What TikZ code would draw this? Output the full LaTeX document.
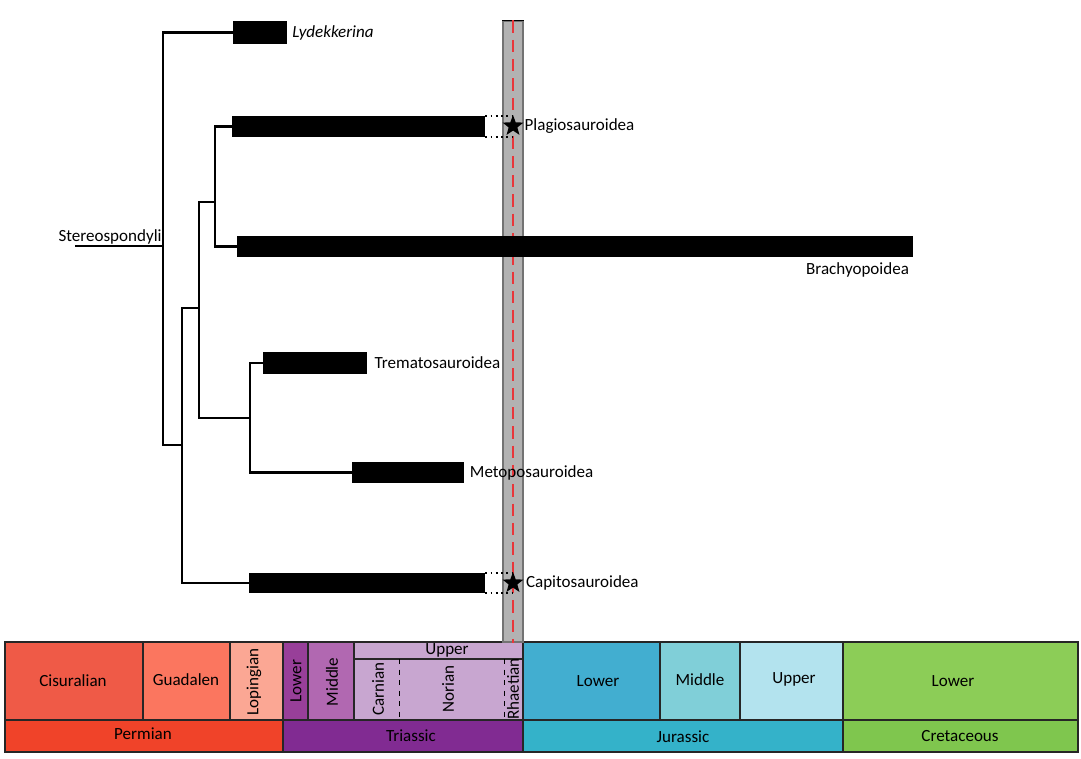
\documentclass[tikz,border=0pt]{standalone}
\usepackage{fontspec}
\setmainfont{Carlito}
\usepackage{xcolor}
\usepackage{tikz}
\usetikzlibrary{positioning}
\usetikzlibrary{fit}
\usetikzlibrary{shapes.geometric}
\definecolor{cisural}{HTML}{EF5A47}
\definecolor{guadal}{HTML}{FB765F}
\definecolor{loping}{HTML}{FBA794}
\definecolor{permian}{HTML}{F04329}
\definecolor{lowtri}{HTML}{983F99}
\definecolor{midtri}{HTML}{B168B1}
\definecolor{upptri}{HTML}{C8A6D0}
\definecolor{triassic}{HTML}{812B92}
\definecolor{lowjur}{HTML}{42AED0}
\definecolor{midjur}{HTML}{80CFD8}
\definecolor{uppjur}{HTML}{B3E3EE}
\definecolor{jurassic}{HTML}{34B2C9}
\definecolor{lowcret}{HTML}{8CCD57}
\definecolor{cretac}{HTML}{7FC64E}
\definecolor{tjred}{HTML}{E8363A}
\newcommand{\taxfont}{\fontsize{9.7}{11}\selectfont}
\tikzset{>=latex}
\tikzstyle{bar} = [draw=none, fill=black, inner sep=0]
\tikzstyle{taxon} = [draw=none, inner sep=0, font=\taxfont]
\tikzstyle{branch} = [-, line width=1.5pt]
\tikzstyle{ghost} = [-, dotted, line width=1pt]
\tikzstyle{age} = [draw=black!85, line width=0.6pt]
\tikzstyle{extinct} = [star, star points=5, star point ratio=2.4, fill=black, inner sep=0, minimum size=12.5pt]

\begin{document}
\begin{tikzpicture}[x=0.02cm, y=-0.02cm]
\useasboundingbox (0,0) rectangle (1081,758);
% time scale
\draw [age, fill=cisural] (5,642) rectangle (143,720);
\draw [age, fill=guadal] (143,642) rectangle (230,720);
\draw [age, fill=loping] (230,642) rectangle (283,720);
\draw [age, fill=permian] (5,720) rectangle (283,752);
\draw [age, fill=lowtri] (283,642) rectangle (308,720);
\draw [age, fill=midtri] (308,642) rectangle (354,720);
\draw [age, fill=upptri] (354,642) rectangle (523,659);
\draw [age, fill=upptri] (354,659) rectangle (523,720);
\draw [dashed, line width=0.5pt] (399,659) -- (399,720);
\draw [dashed, line width=0.5pt] (504,659) -- (504,720);
\draw [age, fill=triassic] (283,720) rectangle (523,752);
\draw [age, fill=lowjur] (523,642) rectangle (660,720);
\draw [age, fill=midjur] (660,642) rectangle (740,720);
\draw [age, fill=uppjur] (740,642) rectangle (843,720);
\draw [age, fill=jurassic] (523,720) rectangle (843,752);
\draw [age, fill=lowcret] (843,642) rectangle (1078,720);
\draw [age, fill=cretac] (843,720) rectangle (1078,752);
\node [taxon] at (73,681) {Cisuralian};
\node [taxon] at (186,680) {Guadalen};
\node [taxon, rotate=90] at (254,682) {Lopingian};
\node [taxon, rotate=90] at (296,681) {Lower};
\node [taxon, rotate=90] at (332,682) {Middle};
\node [taxon] at (447,650) {Upper};
\node [taxon, rotate=90] at (378,689) {Carnian};
\node [taxon, rotate=90] at (448,689) {Norian};
\node [taxon, rotate=90] at (513,689) {Rhaetian};
\node [taxon] at (598,681) {Lower};
\node [taxon] at (700,680) {Middle};
\node [taxon] at (794,679) {Upper};
\node [taxon] at (953,681) {Lower};
\node [taxon] at (143,734) {Permian};
\node [taxon] at (411,736) {Triassic};
\node [taxon] at (683,737) {Jurassic};
\node [taxon] at (960,736) {Cretaceous};
% Triassic-Jurassic boundary
\node [draw=black!55, fill=black!30, line width=0.6pt, inner sep=0, fit={(503,21) (523,642)}] (tj) {};
\draw [line width=1pt] (tj.north west) -- (tj.north east);
\draw [tjred, dashed, dash pattern=on 7pt off 4pt, line width=0.9pt] (tj.north) -- (tj.south);
% ranges
\node [bar, fit={(233,21) (287,44)}] (lyd) {};
\node [bar, fit={(232,116) (485,137)}] (plag) {};
\node [bar, fit={(237,236) (913,257)}] (brach) {};
\node [bar, fit={(263,352) (367,374)}] (trem) {};
\node [bar, fit={(352,462) (464,483)}] (meto) {};
\node [bar, fit={(249,573) (485,593)}] (cap) {};
\node [extinct] (plagx) at (513,126) {};
\node [extinct] (capx) at (513,583) {};
\draw [ghost] (plag.north east) -- (plag.north east -| plagx);
\draw [ghost] (plag.south east) -- (plag.south east -| plagx);
\draw [ghost] (cap.north east) -- (cap.north east -| capx);
\draw [ghost] (cap.south east) -- (cap.south east -| capx);
% tree
\coordinate (stem) at (75,246);
\coordinate (n1) at (163,246);
\coordinate (n2) at (182,445);
\coordinate (n3) at (199,308);
\coordinate (n4) at (215,202);
\coordinate (n5) at (250,418);
\draw [branch] (stem) -- (n1);
\draw [branch] (n1) |- (lyd.west);
\draw [branch] (n1) |- (n2);
\draw [branch] (n2) |- (n3);
\draw [branch] (n2) |- (cap.west);
\draw [branch] (n3) |- (n4);
\draw [branch] (n3) |- (n5);
\draw [branch] (n4) |- (plag.west);
\draw [branch] (n4) |- (brach.west);
\draw [branch] (n5) |- (trem.west);
\draw [branch] (n5) |- (meto.west);
% labels
\node [taxon, above left=0.6pt and 0.6pt of n1] {Stereospondyli};
\node [taxon, right=2.6pt of lyd, font=\taxfont\itshape] {Lydekkerina};
\node [taxon, right=2.6pt of plagx] {Plagiosauroidea};
\node [taxon, below left=3pt and 2.3pt of brach.south east] {Brachyopoidea};
\node [taxon, right=4pt of trem] {Trematosauroidea};
\node [taxon, right=3pt of meto] {Metoposauroidea};
\node [taxon, right=3.4pt of capx] {Capitosauroidea};
\end{tikzpicture}
\end{document}
